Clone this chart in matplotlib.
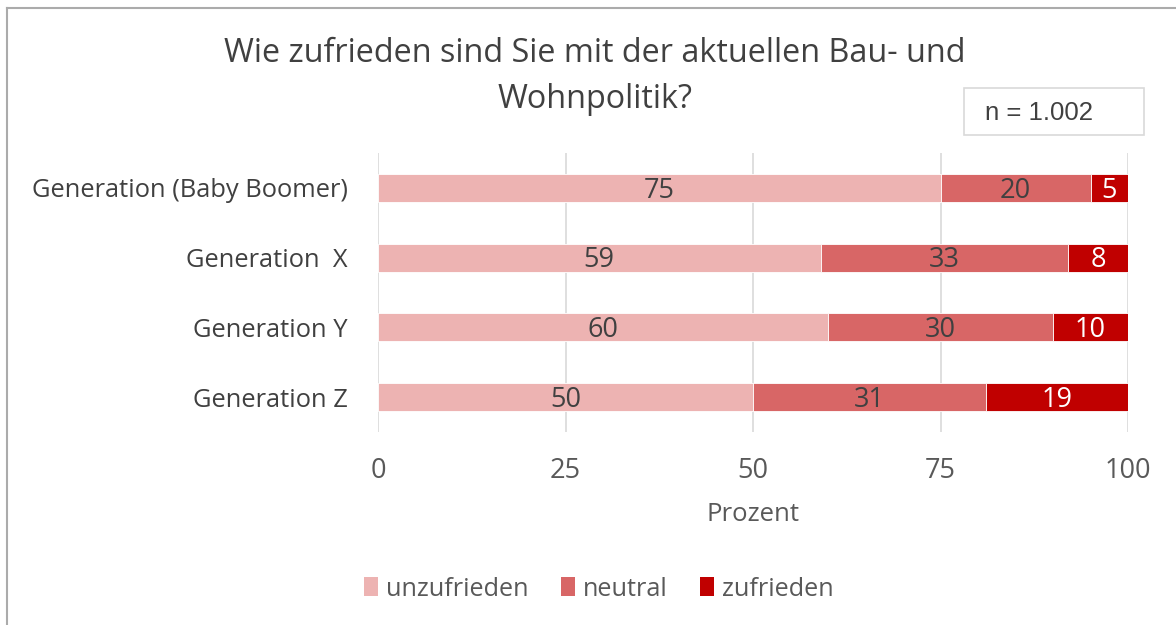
import numpy as np
from matplotlib import pyplot as plt
from matplotlib.lines import Line2D
from matplotlib.patches import Rectangle, Patch

plt.rcParams['font.family'] = ['Open Sans', 'DejaVu Sans']

# --- data ---
groups = ['Generation (Baby Boomer)', 'Generation  X', 'Generation Y', 'Generation Z']
unzufrieden = [75, 59, 60, 50]
neutral = [20, 33, 30, 31]
zufrieden = [5, 8, 10, 19]
series_names = ['unzufrieden', 'neutral', 'zufrieden']
x_ticks = [0, 25, 50, 75, 100]

colors = ['#EDB3B2', '#D86666', '#C00000']
label_colors = ['#404040', '#404040', '#FFFFFF']
txt = '#595959'

fig = plt.figure(figsize=(11.76, 6.25), dpi=100)
ax = fig.add_axes([378/1176, 1 - 432/625, 750/1176, 279/625])

ypos = np.arange(len(groups))
left = np.zeros(len(groups))
for vals, col, lcol, name in zip([unzufrieden, neutral, zufrieden], colors, label_colors, series_names):
    bars = ax.barh(ypos, vals, left=left, height=0.4, color=col, edgecolor='white',
                   linewidth=0.6, label=name, zorder=3)
    for b, v in zip(bars, vals):
        ax.annotate(str(v), (b.get_x() + b.get_width() / 2, b.get_y() + b.get_height() / 2),
                    xytext=(0, -2), textcoords='offset points', ha='center', va='center',
                    color=lcol, fontsize=19.5, zorder=4)
    left += np.array(vals)

ax.set_xlim(0, 100)
ax.set_ylim(3.5, -0.5)
ax.set_xticks(x_ticks)
ax.set_yticks(ypos, groups)
ax.grid(axis='x', color='#D9D9D9', linewidth=1.2, zorder=0)
for s in ax.spines.values():
    s.set_visible(False)
ax.tick_params(axis='both', length=0, colors=txt)
ax.tick_params(axis='x', pad=18, labelsize=19.5)
ax.tick_params(axis='y', pad=22, labelsize=18.4, labelcolor='#404040')
ax.set_xlabel('Prozent', color=txt, fontsize=18.5, labelpad=12)

fig.text(595/1176, 1 - 53/625, 'Wie zufrieden sind Sie mit der aktuellen Bau- und',
         ha='center', va='center', fontsize=23.3, color='#404040')
fig.text(595/1176, 1 - 99/625, 'Wohnpolitik?',
         ha='center', va='center', fontsize=23.3, color='#404040')

# n box
fig.patches.append(Rectangle((964/1176, 1 - 135/625), 180/1176, 47/625,
                             transform=fig.transFigure, facecolor='white',
                             edgecolor='#D9D9D9', linewidth=1.2))
fig.text(985/1176, 1 - 113/625, 'n = 1.002', ha='left', va='center',
         fontsize=18.5, color='#404040', family='Liberation Sans')

# outer frame
fig.add_artist(Line2D([7/1176, 7/1176], [0, 1 - 8/625], transform=fig.transFigure,
                      color='#ABABAB', linewidth=1.5))
fig.add_artist(Line2D([7/1176, 1], [1 - 8/625, 1 - 8/625], transform=fig.transFigure,
                      color='#ABABAB', linewidth=1.5))

handles = [Patch(facecolor=c) for c in colors]
fig.legend(handles, series_names, loc='center', bbox_to_anchor=(599/1176, 1 - 589/625),
           ncol=3, frameon=False, fontsize=18.2, labelcolor=txt, handlelength=0.55,
           handleheight=0.8, handletextpad=0.3, columnspacing=1.3)

plt.savefig('out.png', dpi=100)
